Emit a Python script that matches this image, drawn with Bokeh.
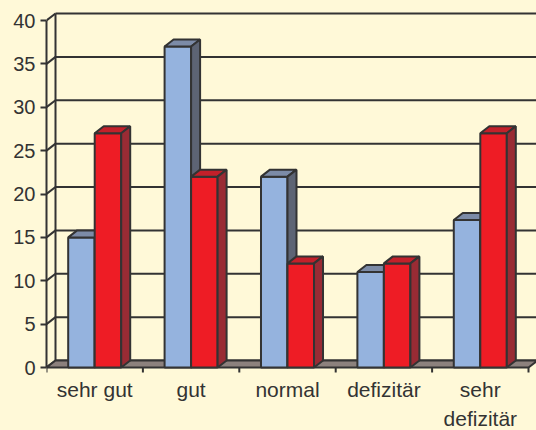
from bokeh.plotting import figure
from bokeh.models import FixedTicker, Range1d
from bokeh.core.properties import value
from bokeh.embed import file_html
from bokeh.resources import INLINE

# ---- data ----
categories = ["sehr gut", "gut", "normal", "defizitär", "sehr\ndefizitär"]
blue_values = [15, 37, 22, 11, 17]
red_values = [27, 22, 12, 12, 27]
y_ticks = [0, 5, 10, 15, 20, 25, 30, 35, 40]

# ---- style / layout ----
BG = "#FFF9D8"
LINE = "#333333"
FONT = "Liberation Sans"
BLUE = ("#95B3DE", "#7C8BA7", "#5D6474")   # front, top, side
RED = ("#EE1C25", "#C3202A", "#992B34")

W, H = 536, 430
LEFT = 46          # px of the front y axis
PX_X = 96.4        # px per category
PX_Y = 8.675       # px per value unit
ZERO_Y = 367       # px of value 0 (front)
DX = 9 / PX_X      # depth offset in data units
DY = 7 / PX_Y
BAR_OFF = [0.225, 0.5]
BAR_W = 0.275

n = len(categories)
ymax = y_ticks[-1]

p = figure(width=W, height=H, output_backend="svg", toolbar_location=None,
           x_range=Range1d(0, (W - LEFT) / PX_X),
           y_range=Range1d(-(H - ZERO_Y) / PX_Y, ZERO_Y / PX_Y),
           x_axis_type=None,
           min_border_left=LEFT, min_border_right=0,
           min_border_top=0, min_border_bottom=0,
           background_fill_color=BG, border_fill_color=BG)
p.outline_line_color = None
p.grid.visible = False

# back wall gridlines
p.segment(x0=[DX] * len(y_ticks), y0=[t + DY for t in y_ticks],
          x1=[n + DX] * len(y_ticks), y1=[t + DY for t in y_ticks],
          line_color=LINE, line_width=2)
# side wall diagonals
p.segment(x0=[0] * len(y_ticks), y0=y_ticks,
          x1=[DX] * len(y_ticks), y1=[t + DY for t in y_ticks],
          line_color=LINE, line_width=2)
# back vertical edge
p.segment(x0=[DX], y0=[DY], x1=[DX], y1=[ymax + DY], line_color=LINE, line_width=2)

# floor
p.patch(x=[0, n, n + DX, DX], y=[0, 0, DY, DY], fill_color="#8C817D",
        line_color=LINE, line_width=2)

# x ticks below the floor
p.segment(x0=list(range(n + 1)), y0=[0] * (n + 1),
          x1=list(range(n + 1)), y1=[-5 / PX_Y] * (n + 1),
          line_color=LINE, line_width=2)

# bars
for k, (vals, cols) in enumerate([(blue_values, BLUE), (red_values, RED)]):
    lefts = [i + BAR_OFF[k] for i in range(n)]
    rights = [l + BAR_W for l in lefts]
    p.quad(left=lefts, right=rights, bottom=[0] * n, top=vals,
           fill_color=cols[0], line_color=LINE, line_width=2)
    p.patches(xs=[[l, r, r + DX, l + DX] for l, r in zip(lefts, rights)],
              ys=[[v, v, v + DY, v + DY] for v in vals],
              fill_color=cols[1], line_color=LINE, line_width=2)
    p.patches(xs=[[r, r + DX, r + DX, r] for r in rights],
              ys=[[0, DY, v + DY, v] for v in vals],
              fill_color=cols[2], line_color=LINE, line_width=2)

# category labels (two possible lines)
line1 = [c.split("\n")[0] for c in categories]
line2 = [c.split("\n")[1] if "\n" in c else "" for c in categories]
xc = [i + 0.5 for i in range(n)]
p.text(x=xc, y=[-22 / PX_Y] * n, text=line1, text_align="center",
       text_baseline="alphabetic", text_font=value(FONT),
       text_font_size="21px", text_color=LINE)
p.text(x=xc, y=[-51 / PX_Y] * n, text=line2, text_align="center",
       text_baseline="alphabetic", text_font=value(FONT),
       text_font_size="21px", text_color=LINE)

# y axis (front)
ax = p.yaxis[0]
ax.bounds = (0, ymax)
ax.ticker = FixedTicker(ticks=y_ticks, minor_ticks=[])
ax.major_tick_out = 6
ax.major_tick_in = 0
ax.minor_tick_out = 0
ax.minor_tick_in = 0
ax.axis_line_color = LINE
ax.axis_line_width = 2
ax.major_tick_line_color = LINE
ax.major_tick_line_width = 2
ax.major_label_text_font = FONT
ax.major_label_text_font_size = "20px"
ax.major_label_text_color = LINE
ax.major_label_standoff = 5

html = file_html(p, INLINE, title="Bewertung")
html = html.replace("</head>",
                    "<style>html,body{margin:0;padding:0;background:" + BG +
                    ";overflow:hidden;}</style></head>", 1)
open("out.html", "w").write(html)
